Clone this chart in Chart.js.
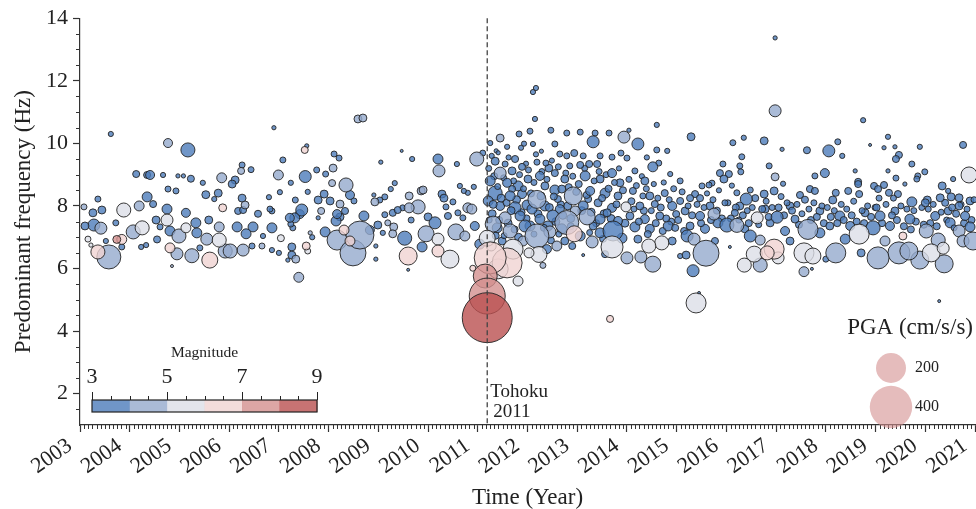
<!DOCTYPE html>
<html>
<head>
<meta charset="utf-8">
<script src="https://cdn.jsdelivr.net/npm/chart.js@4.4.1/dist/chart.umd.min.js"></script>
<style>
  html, body { margin: 0; padding: 0; background: #fff; }
  .chartContainer { width: 976px; height: 509px; }
</style>
</head>
<body>
<div class="chartContainer"><canvas id="chart" width="976" height="509"></canvas></div>
<script>
// Events: time (decimal year), predominant frequency (Hz),
// PGA (cm/s/s) and magnitude. One block per year, then the dense aftershock band.
const eventTime = [
  // 2003
  2003.62, 2003.10, 2003.16, 2003.26, 2003.28, 2003.42, 2003.36, 2003.36, 2003.58, 2003.72,
  2003.74, 2003.84, 2003.84, 2003.88, 2003.44, 2003.08, 2003.22, 2003.52,
  // 2004
  2004.13, 2004.35, 2004.41, 2004.67, 2004.77, 2004.97, 2004.35, 2004.77, 2004.93, 2004.19,
  2004.47, 2004.75, 2004.07, 2004.25, 2004.53, 2004.75, 2004.81, 2004.23, 2004.33, 2004.55,
  2004.81, 2004.95, 2004.85, 2004.61,
  // 2005
  2005.17, 2005.08, 2005.23, 2005.47, 2005.85, 2005.53, 2005.78, 2005.13, 2004.99, 2005.13,
  2005.33, 2005.35, 2005.55, 2005.80, 2005.59, 2005.80, 2005.87, 2005.25, 2005.61, 2005.92,
  2005.41, 2005.70,
  // 2006
  2006.26, 2006.44, 2006.24, 2006.06, 2006.12, 2006.26, 2006.32, 2006.80, 2006.90, 2006.99,
  2006.18, 2006.28, 2006.82, 2006.86, 2006.16, 2006.34, 2006.48, 2006.86, 2006.68, 2006.02,
  2006.28, 2006.46, 2006.66, 2006.86, 2007.00, 2006.58,
  // 2007
  2007.04, 2007.08, 2007.52, 2007.56, 2007.53, 2007.76, 2007.94, 2007.24, 2007.02, 2007.58,
  2007.33, 2007.79, 2007.91, 2007.46, 2007.22, 2007.32, 2007.42, 2007.85, 2007.79, 2007.24,
  2007.28, 2007.93, 2007.63, 2007.26, 2007.26, 2007.55, 2007.58, 2007.34, 2007.18, 2007.40,
  2007.67,
  // 2008
  2008.11, 2008.21, 2008.09, 2008.07, 2008.35, 2008.23, 2008.43, 2008.51, 2008.03, 2008.17,
  2008.23, 2008.15, 2008.71, 2008.99, 2008.17, 2008.63, 2008.49, 2008.31, 2008.59, 2008.69,
  2008.93, 2008.91, 2008.95, 2008.95, 2008.43, 2008.83, 2008.33,
  // 2009
  2009.13, 2009.25, 2009.33, 2009.03, 2009.05, 2009.47, 2009.68, 2009.62, 2009.86, 2009.90,
  2009.13, 2009.29, 2009.39, 2009.49, 2009.62, 2009.80, 2009.66, 2010.00, 2009.31, 2009.29,
  2009.53, 2009.88, 2009.60, 2009.60, 2009.09, 2009.19,
  // 2010
  2010.20, 2010.22, 2010.58, 2010.28, 2010.32, 2010.64, 2010.72, 2010.80, 2010.92, 2010.36,
  2010.50, 2010.80, 2010.88, 2010.60, 2010.70, 2010.14, 2009.96, 2010.56, 2010.74, 2010.20,
  2010.20, 2010.44, 2010.98, 2011.10, 2011.04, 2010.90, 2010.94, 2010.40,
  // Tohoku sequence
  2011.19, 2011.19, 2011.15, 2011.25, 2011.59, 2011.71, 2011.19, 2011.31, 2011.25, 2011.41,
  2011.81, 2011.45,
  // rest of 2011
  2011.83, 2012.05, 2011.59, 2011.87, 2011.93, 2011.35, 2011.55, 2011.75, 2011.45, 2011.69,
  2011.89, 2011.25, 2011.59, 2011.81, 2012.01, 2011.35, 2011.65, 2011.89, 2011.21, 2011.45,
  2011.75, 2011.99, 2011.29, 2011.55, 2011.85, 2011.39, 2011.65, 2011.95, 2011.49, 2011.91,
  2011.69, 2011.27, 2012.03, 2011.37,
  // 2012
  2012.15, 2012.11, 2012.17, 2012.47, 2012.79, 2012.55, 2012.11, 2012.65, 2012.79, 2012.94,
  2012.19, 2012.37, 2012.43, 2012.25, 2012.55, 2012.75, 2012.85, 2012.19, 2012.55, 2012.92,
  2012.35, 2012.69, 2012.09, 2012.35, 2012.65, 2012.96, 2012.25, 2012.51, 2012.79, 2012.19,
  2012.45, 2012.94, 2012.23, 2012.31, 2012.59, 2012.90, 2012.39, 2012.75, 2012.05, 2012.61,
  2012.41, 2012.69, 2012.27, 2012.81,
  // 2013
  2013.06, 2013.36, 2013.64, 2013.32, 2013.94, 2014.04, 2013.12, 2013.46, 2013.70, 2013.88,
  2014.00, 2013.06, 2013.24, 2013.40, 2013.16, 2013.46, 2013.70, 2013.86, 2013.26, 2013.56,
  2013.82, 2013.12, 2013.42, 2013.70, 2013.98, 2013.20, 2013.46, 2013.82, 2013.72, 2013.30,
  2013.70, 2014.00, 2013.06, 2013.46, 2013.90, 2013.56, 2013.12, 2013.66, 2013.32, 2013.60,
  2013.22,
  // 2014
  2014.22, 2014.60, 2014.60, 2014.81, 2014.64, 2014.52, 2014.87, 2014.16, 2014.36, 2014.12,
  2014.46, 2014.76, 2014.26, 2014.56, 2014.91, 2014.06, 2014.36, 2014.66, 2014.16, 2014.46,
  2014.83, 2014.44, 2014.70, 2014.28, 2014.52, 2014.91, 2014.22, 2014.99, 2014.32, 2014.72,
  2014.40,
  // 2015
  2015.29, 2015.21, 2015.35, 2015.59, 2015.33, 2015.39, 2015.45, 2015.07, 2015.19, 2015.51,
  2015.65, 2015.71, 2015.07, 2015.27, 2015.37, 2015.47, 2015.87, 2015.95, 2015.75, 2015.17,
  2015.47, 2015.27, 2015.57, 2015.83, 2015.07, 2015.67, 2015.93, 2015.77,
  // 2016
  2016.13, 2016.35, 2016.76, 2016.31, 2016.27, 2016.29, 2016.86, 2016.05, 2016.21, 2016.48,
  2016.40, 2016.76, 2016.96, 2016.21, 2016.01, 2016.62, 2016.48, 2016.68, 2016.56, 2016.36,
  2016.68, 2016.82, 2016.07, 2016.27, 2016.78, 2016.17, 2016.88, 2016.37,
  // 2017
  2016.98, 2016.98, 2017.12, 2017.62, 2016.98, 2017.14, 2017.78, 2017.98, 2017.48, 2017.78,
  2017.68, 2017.02, 2017.64, 2016.96, 2017.04, 2017.56, 2017.74, 2017.56, 2017.72, 2017.28,
  2017.38, 2017.18, 2017.88, 2017.88, 2018.00, 2017.28,
  // 2018
  2018.06, 2018.24, 2018.33, 2018.75, 2018.59, 2018.65, 2018.65, 2018.97, 2018.20, 2018.14,
  2018.45, 2018.67, 2018.67, 2018.95, 2018.20, 2018.71, 2018.28, 2018.49, 2018.79, 2018.39,
  2018.08, 2018.89,
  // 2019
  2019.25, 2019.17, 2019.39, 2019.89, 2019.47, 2019.41, 2019.73, 2019.25, 2019.99, 2019.85,
  2019.83, 2019.41, 2019.59, 2019.17, 2019.05, 2019.27, 2019.45, 2019.73, 2019.05, 2019.47,
  2019.67, 2019.89, 2019.55, 2019.09, 2019.29, 2019.69, 2019.39, 2019.19,
  // 2020
  2020.76, 2020.88, 2020.56, 2020.34, 2020.30, 2020.46, 2020.52, 2020.68, 2020.68, 2020.90,
  2020.04, 2020.00, 2020.02, 2020.26, 2020.36, 2020.68, 2020.76, 2020.96, 2020.12, 2020.38,
  2020.28, 2020.20, 2020.50, 2020.80, 2020.46, 2020.90,
  // dense band 2011
  2011.22, 2011.28, 2011.33, 2011.40, 2011.47, 2011.52, 2011.58, 2011.62, 2011.67, 2011.72,
  2011.78, 2011.84, 2011.88, 2011.92, 2011.97, 2011.31, 2011.43, 2011.61, 2011.74, 2011.82,
  2011.23, 2011.36, 2011.53, 2011.98, 2011.41,
  // dense band 2012
  2012.02, 2012.07, 2012.13, 2012.17, 2012.21, 2012.29, 2012.33, 2012.39, 2012.44, 2012.49,
  2012.53, 2012.57, 2012.62, 2012.67, 2012.71, 2012.77, 2012.83, 2012.87, 2012.91, 2012.98,
  2012.13, 2012.47, 2012.63, 2012.87, 2012.28,
  // dense band 2013
  2013.03, 2013.09, 2013.15, 2013.19, 2013.28, 2013.34, 2013.38, 2013.44, 2013.50, 2013.54,
  2013.58, 2013.63, 2013.68, 2013.75, 2013.79, 2013.84, 2013.92, 2013.96, 2013.25, 2013.52,
  // dense band 2014
  2014.04, 2014.09, 2014.14, 2014.19, 2014.24, 2014.30, 2014.34, 2014.39, 2014.42, 2014.49,
  2014.54, 2014.58, 2014.62, 2014.68, 2014.74, 2014.79, 2014.85, 2014.89, 2014.94, 2014.97,
  // dense band 2015
  2015.03, 2015.11, 2015.15, 2015.23, 2015.31, 2015.41, 2015.49, 2015.55, 2015.61, 2015.69,
  2015.73, 2015.81, 2015.85, 2015.91, 2015.97,
  // dense band 2016
  2016.03, 2016.09, 2016.11, 2016.19, 2016.25, 2016.33, 2016.42, 2016.45, 2016.52, 2016.58,
  2016.65, 2016.72, 2016.80, 2016.85, 2016.92,
  // dense band 2017
  2017.05, 2017.10, 2017.16, 2017.22, 2017.32, 2017.42, 2017.46, 2017.52, 2017.58, 2017.66,
  2017.70, 2017.76, 2017.82, 2017.92, 2017.96,
  // dense band 2018
  2018.03, 2018.10, 2018.17, 2018.23, 2018.31, 2018.36, 2018.42, 2018.52, 2018.56, 2018.62,
  2018.73, 2018.77, 2018.84, 2018.91, 2018.99,
  // dense band 2019
  2019.02, 2019.07, 2019.13, 2019.21, 2019.33, 2019.36, 2019.43, 2019.51, 2019.57, 2019.63,
  2019.71, 2019.77, 2019.81, 2019.93, 2019.97,
  // dense band 2020
  2020.06, 2020.10, 2020.16, 2020.23, 2020.32, 2020.40, 2020.43, 2020.54, 2020.58, 2020.62,
  2020.72, 2020.78, 2020.84, 2020.93, 2020.98
];

const eventFreq = [
  // 2003
  10.30, 7.36, 6.94, 7.78, 7.39, 7.29, 8.22, 6.53, 6.37, 7.46,
  6.93, 6.93, 6.69, 7.87, 7.87, 7.97, 6.75, 6.88,
  // 2004
  9.02, 8.99, 8.99, 8.99, 10.01, 8.96, 8.29, 8.54, 8.48, 8.00,
  8.06, 7.90, 7.17, 7.30, 7.55, 7.55, 7.20, 6.69, 6.75, 6.93,
  6.66, 6.47, 6.08, 7.33,
  // 2005
  9.79, 8.96, 8.87, 8.74, 8.90, 8.36, 8.41, 7.78, 7.04, 7.30,
  7.46, 7.14, 6.94, 6.91, 7.55, 7.33, 7.94, 6.41, 6.27, 6.56,
  6.66, 8.22,
  // 2006
  9.31, 9.16, 9.12, 8.70, 8.83, 8.25, 8.03, 8.28, 10.50, 8.99,
  7.84, 7.87, 7.90, 7.84, 7.33, 7.11, 7.33, 7.30, 7.04, 6.56,
  6.59, 6.72, 6.72, 6.59, 6.50, 7.75,
  // 2007
  6.97, 9.47, 9.79, 9.92, 8.94, 9.15, 9.02, 8.74, 8.44, 8.45,
  8.19, 8.19, 8.38, 7.87, 7.62, 7.62, 7.74, 7.84, 7.62, 7.42,
  7.30, 7.17, 7.14, 6.69, 6.43, 6.72, 6.56, 6.30, 6.27, 5.72,
  7.00,
  // 2008
  9.66, 9.53, 9.21, 8.73, 8.67, 8.06, 8.35, 8.16, 8.16, 7.74,
  7.65, 7.52, 7.68, 7.39, 6.91, 7.07, 6.50, 7.23, 10.78, 10.81,
  8.13, 8.35, 6.72, 6.30, 6.88, 7.23, 7.84,
  // 2009
  8.29, 8.54, 8.73, 8.19, 9.40, 9.76, 9.50, 8.32, 8.48, 8.51,
  7.72, 7.78, 7.87, 7.94, 7.94, 7.97, 7.55, 7.65, 7.33, 7.11,
  6.97, 6.69, 6.40, 5.96, 7.14, 7.46,
  // 2010
  9.50, 9.12, 9.34, 8.38, 8.25, 8.64, 8.48, 8.42, 8.61, 7.97,
  8.13, 7.94, 7.90, 7.78, 7.62, 7.46, 7.11, 7.17, 7.04, 6.94,
  6.56, 6.30, 9.50, 9.69, 6.78, 6.01, 7.36, 7.68,
  // Tohoku sequence
  4.43, 5.12, 5.76, 6.34, 6.18, 6.62, 6.97, 7.42, 10.01, 5.99,
  5.60, 10.17,
  // rest of 2011
  10.30, 10.39, 9.89, 9.86, 9.99, 9.43, 9.34, 9.50, 9.05, 9.12,
  9.25, 8.80, 8.74, 8.64, 8.86, 8.41, 8.32, 8.38, 8.16, 8.00,
  7.94, 8.03, 7.75, 7.62, 7.68, 7.30, 7.20, 7.36, 6.88, 6.88,
  8.54, 6.72, 6.50, 9.76,
  // 2012
  10.78, 11.64, 11.77, 10.42, 10.33, 9.98, 9.98, 9.66, 9.60, 9.69,
  9.40, 9.37, 9.21, 8.96, 9.05, 8.86, 9.28, 8.21, 8.51, 8.32,
  8.64, 8.54, 7.90, 8.00, 7.90, 7.84, 7.58, 7.68, 7.47, 7.04,
  7.17, 7.11, 6.45, 6.10, 6.72, 6.72, 6.62, 6.88, 7.36, 8.22,
  7.36, 7.27, 8.32, 8.00,
  // 2013
  10.36, 10.33, 10.33, 10.05, 10.20, 10.42, 9.60, 9.60, 9.56, 9.69,
  9.53, 9.31, 9.34, 9.34, 8.96, 8.86, 9.05, 8.74, 8.48, 8.41,
  8.32, 8.00, 8.10, 7.94, 7.97, 7.65, 7.58, 7.52, 7.20, 6.85,
  6.69, 6.34, 7.04, 7.14, 6.97, 6.46, 6.43, 4.39, 7.36, 7.78,
  8.22,
  // 2014
  9.98, 10.59, 9.79, 9.76, 9.37, 9.25, 9.02, 9.12, 8.80, 8.48,
  8.32, 8.41, 8.00, 8.06, 8.00, 7.68, 7.58, 7.68, 7.33, 7.27,
  7.36, 6.72, 6.82, 6.37, 6.14, 6.88, 6.94, 7.74, 8.32, 7.20,
  9.55,
  // 2015
  10.21, 7.04, 6.94, 6.49, 5.93, 4.90, 5.22, 6.40, 6.43, 8.64,
  8.67, 8.73, 8.80, 8.25, 8.38, 8.25, 9.05, 8.86, 7.74, 7.84,
  7.68, 7.36, 7.27, 7.46, 8.16, 8.00, 9.34, 6.88,
  // 2016
  10.02, 10.18, 10.08, 9.57, 9.28, 9.09, 9.28, 9.02, 8.42, 8.51,
  8.22, 8.38, 8.48, 7.38, 7.39, 7.62, 7.04, 6.91, 6.46, 6.11,
  6.11, 6.50, 6.69, 8.00, 7.90, 7.78, 7.46, 7.27,
  // 2017
  13.37, 11.04, 9.81, 9.78, 8.93, 8.71, 8.96, 9.05, 8.35, 8.48,
  8.54, 7.64, 7.25, 6.62, 6.34, 6.50, 6.40, 5.90, 5.99, 8.00,
  7.58, 7.20, 7.84, 7.14, 6.30, 6.88,
  // 2018
  9.76, 10.05, 9.60, 10.74, 9.12, 8.77, 8.70, 8.64, 8.42, 8.19,
  8.48, 8.38, 7.10, 7.30, 6.50, 6.50, 7.68, 7.36, 7.78, 6.94,
  7.36, 9.95,
  // 2019
  10.21, 9.86, 9.89, 9.89, 9.63, 9.50, 9.34, 9.12, 9.09, 8.96,
  8.86, 8.89, 8.70, 8.67, 8.54, 8.42, 8.38, 8.13, 6.34, 6.50,
  6.56, 6.27, 7.04, 7.68, 7.36, 7.58, 7.84, 6.88,
  // 2020
  9.95, 8.99, 8.86, 8.64, 8.26, 8.48, 8.29, 8.26, 8.00, 8.16,
  8.19, 8.10, 7.20, 6.91, 6.65, 7.20, 6.88, 6.88, 6.50, 6.15,
  4.96, 7.68, 7.46, 7.68, 7.84, 7.33,
  // dense band 2011
  9.20, 9.60, 8.95, 8.62, 8.25, 8.90, 8.10, 9.55, 7.85, 8.80,
  8.20, 9.00, 7.80, 8.55, 9.35, 8.05, 7.55, 7.45, 7.25, 7.00,
  7.55, 7.05, 7.05, 7.60, 9.70,
  // dense band 2012
  9.15, 8.40, 8.75, 9.65, 7.75, 9.10, 7.30, 8.85, 7.95, 9.45,
  8.30, 7.50, 9.25, 8.05, 7.70, 9.05, 8.60, 7.60, 8.95, 8.45,
  7.10, 6.90, 7.10, 7.35, 9.75,
  // dense band 2013
  8.70, 7.85, 9.20, 8.35, 7.80, 8.80, 7.45, 9.10, 8.25, 7.75,
  9.00, 8.55, 7.60, 8.75, 8.05, 9.20, 8.50, 7.45, 7.15, 6.95,
  // dense band 2014
  8.85, 8.15, 7.90, 8.65, 7.50, 8.95, 7.85, 8.55, 7.10, 7.85,
  8.70, 7.45, 8.25, 7.95, 8.75, 7.60, 8.20, 7.50, 8.55, 7.30,
  // dense band 2015
  7.55, 8.45, 7.20, 8.00, 7.70, 8.05, 7.45, 7.95, 8.40, 7.55,
  8.20, 7.85, 8.50, 7.60, 8.10,
  // dense band 2016
  8.10, 7.60, 8.65, 7.95, 7.55, 7.70, 7.85, 7.45, 7.95, 8.25,
  7.40, 7.90, 8.15, 7.65, 7.95,
  // dense band 2017
  7.95, 8.30, 7.70, 8.10, 7.85, 8.05, 7.40, 7.75, 8.20, 7.90,
  7.55, 8.10, 7.65, 8.00, 7.45,
  // dense band 2018
  7.95, 7.65, 7.85, 7.45, 8.05, 7.55, 7.90, 7.70, 8.15, 7.50,
  7.85, 7.45, 8.00, 7.65, 7.95,
  // dense band 2019
  7.95, 8.25, 7.45, 8.05, 7.70, 8.25, 7.55, 8.00, 7.35, 7.90,
  7.25, 7.85, 7.50, 7.95, 7.40,
  // dense band 2020
  7.90, 7.45, 8.05, 7.35, 7.80, 8.10, 7.55, 7.95, 7.30, 7.75,
  8.05, 7.45, 7.90, 7.55, 8.20
];

const eventPGA = [
  // 2003
  6, 14, 8, 14, 32, 32, 8, 44, 128, 8,
  14, 22, 8, 44, 14, 8, 4, 6,
  // 2004
  11, 11, 18, 6, 18, 4, 22, 8, 8, 22,
  11, 22, 44, 44, 14, 32, 22, 6, 6, 11,
  22, 32, 2, 8,
  // 2005
  44, 4, 11, 6, 22, 14, 14, 18, 44, 22,
  22, 22, 32, 44, 14, 22, 14, 44, 57, 44,
  8, 6,
  // 2006
  8, 8, 11, 14, 14, 14, 14, 6, 4, 22,
  11, 11, 8, 8, 22, 22, 22, 22, 6, 44,
  32, 8, 8, 6, 6, 11,
  // 2007
  11, 8, 11, 4, 32, 8, 8, 6, 6, 6,
  8, 14, 14, 32, 18, 22, 18, 11, 4, 8,
  8, 22, 4, 14, 14, 14, 8, 14, 4, 22,
  6,
  // 2008
  8, 8, 14, 11, 44, 14, 18, 8, 14, 18,
  14, 22, 22, 14, 89, 174, 150, 22, 14, 14,
  14, 4, 4, 4, 22, 18, 11,
  // 2009
  8, 6, 6, 8, 4, 2, 6, 14, 14, 14,
  8, 11, 11, 8, 22, 44, 8, 14, 14, 14,
  44, 22, 72, 2, 6, 8,
  // 2010
  22, 32, 6, 14, 14, 6, 6, 6, 6, 8,
  8, 22, 22, 8, 8, 32, 57, 57, 22, 32,
  32, 72, 44, 8, 22, 8, 18, 11,
  // Tohoku sequence
  555, 288, 128, 228, 200, 89, 57, 57, 6, 89,
  22, 14,
  // rest of 2011
  8, 8, 6, 6, 6, 14, 8, 11, 32, 14,
  11, 22, 18, 22, 14, 44, 22, 18, 22, 18,
  32, 22, 14, 32, 22, 22, 44, 32, 14, 22,
  11, 22, 22, 4,
  // 2012
  6, 6, 6, 8, 8, 8, 6, 8, 8, 11,
  8, 8, 14, 18, 11, 14, 8, 72, 22, 72,
  14, 14, 22, 22, 18, 22, 22, 32, 128, 128,
  32, 57, 57, 8, 22, 11, 18, 14, 22, 11,
  22, 22, 14, 14,
  // 2013
  8, 8, 8, 32, 32, 4, 8, 8, 8, 8,
  8, 11, 11, 11, 22, 14, 18, 14, 18, 22,
  14, 22, 14, 18, 22, 57, 22, 18, 89, 32,
  108, 32, 22, 22, 22, 11, 2, 11, 14, 14,
  11,
  // 2014
  32, 6, 8, 6, 8, 22, 6, 8, 14, 11,
  14, 11, 14, 11, 18, 14, 18, 14, 22, 18,
  22, 44, 44, 32, 57, 14, 14, 11, 8, 11,
  6,
  // 2015
  14, 32, 32, 150, 32, 89, 2, 6, 14, 8,
  8, 8, 8, 11, 11, 11, 11, 14, 32, 14,
  18, 14, 18, 22, 11, 14, 8, 11,
  // 2016
  8, 6, 14, 8, 8, 8, 8, 11, 8, 8,
  32, 14, 14, 44, 44, 32, 32, 22, 57, 44,
  44, 44, 2, 14, 14, 11, 14, 14,
  // 2017
  4, 32, 4, 11, 14, 6, 8, 18, 11, 11,
  11, 32, 89, 89, 32, 89, 57, 22, 2, 14,
  14, 18, 14, 22, 8, 14,
  // 2018
  32, 8, 6, 6, 4, 11, 11, 11, 11, 14,
  11, 11, 89, 44, 89, 14, 22, 18, 14, 22,
  14, 2,
  // 2019
  6, 4, 4, 6, 11, 11, 8, 4, 8, 8,
  8, 8, 4, 11, 11, 11, 11, 22, 108, 108,
  72, 72, 14, 22, 18, 22, 14, 22,
  // 2020
  11, 57, 6, 14, 14, 6, 14, 14, 14, 14,
  14, 14, 44, 44, 32, 32, 32, 72, 72, 72,
  2, 18, 22, 18, 14, 22,
  // dense band 2011
  8, 6, 11, 8, 14, 8, 11, 6, 14, 8,
  14, 8, 11, 8, 6, 14, 11, 14, 11, 14,
  8, 11, 8, 11, 4,
  // dense band 2012
  8, 11, 8, 6, 14, 8, 11, 8, 14, 6,
  11, 14, 8, 11, 14, 8, 11, 14, 8, 11,
  8, 11, 8, 11, 4,
  // dense band 2013
  11, 14, 8, 11, 14, 8, 11, 8, 11, 14,
  8, 11, 14, 8, 11, 6, 11, 14, 8, 11,
  // dense band 2014
  8, 11, 8, 8, 11, 6, 11, 8, 11, 8,
  6, 11, 8, 11, 6, 11, 8, 11, 8, 11,
  // dense band 2015
  11, 8, 11, 8, 11, 8, 11, 8, 6, 11,
  8, 11, 6, 11, 8,
  // dense band 2016
  8, 11, 6, 11, 8, 11, 8, 11, 8, 11,
  8, 11, 8, 11, 8,
  // dense band 2017
  11, 8, 11, 8, 11, 8, 11, 8, 11, 8,
  11, 8, 11, 8, 11,
  // dense band 2018
  8, 11, 8, 11, 8, 11, 8, 11, 8, 11,
  8, 11, 8, 11, 8,
  // dense band 2019
  11, 8, 11, 8, 11, 8, 11, 8, 11, 8,
  11, 8, 11, 8, 11,
  // dense band 2020
  8, 11, 8, 11, 8, 11, 8, 11, 8, 11,
  8, 11, 8, 11, 8
];

const eventMag = [
  // 2003
  3.6, 3.7, 5.2, 3.8, 3.6, 4.3, 3.5, 6.4, 4.6, 3.5,
  7.4, 6.3, 3.5, 5.3, 3.6, 4.1, 5.3, 3.8,
  // 2004
  3.6, 3.5, 3.8, 3.5, 4.2, 3.5, 3.7, 3.5, 3.6, 4.3,
  3.5, 3.8, 4.5, 5.4, 3.6, 5.2, 3.7, 3.5, 3.6, 3.5,
  6.2, 4.0, 4.5, 3.6,
  // 2005
  3.8, 3.5, 3.7, 3.5, 4.3, 3.6, 3.7, 3.6, 4.6, 5.3,
  3.8, 3.6, 4.6, 5.8, 3.5, 4.4, 6.3, 4.6, 6.8, 4.3,
  3.6, 3.5,
  // 2006
  3.6, 3.5, 4.3, 3.7, 3.6, 3.8, 4.2, 3.5, 3.5, 4.2,
  3.6, 3.7, 3.6, 3.5, 3.7, 3.6, 3.8, 3.6, 3.5, 4.6,
  4.1, 3.7, 4.5, 3.6, 3.5, 3.5,
  // 2007
  5.3, 3.6, 6.2, 3.5, 3.8, 3.6, 3.5, 3.5, 3.5, 3.4,
  3.6, 3.7, 3.6, 3.8, 3.7, 3.6, 3.5, 4.4, 3.5, 3.6,
  3.5, 3.7, 4.8, 3.7, 3.8, 6.4, 5.3, 4.4, 3.5, 4.3,
  3.6,
  // 2008
  3.6, 3.5, 4.3, 4.2, 4.2, 4.5, 3.8, 3.6, 3.7, 3.8,
  3.6, 3.7, 3.8, 3.6, 4.8, 4.9, 4.8, 6.3, 4.0, 4.4,
  4.4, 3.5, 3.6, 3.5, 6.0, 3.7, 3.6,
  // 2009
  3.5, 3.6, 3.5, 3.6, 3.5, 3.5, 3.6, 4.4, 4.3, 4.5,
  3.6, 3.5, 3.7, 3.6, 4.4, 4.3, 3.6, 3.7, 4.4, 4.5,
  3.7, 3.8, 6.3, 3.6, 3.5, 4.3,
  // 2010
  3.7, 4.4, 3.6, 3.7, 3.8, 3.5, 3.6, 3.5, 3.6, 3.5,
  3.6, 4.4, 4.6, 3.6, 3.5, 3.8, 4.5, 4.6, 4.8, 5.3,
  6.2, 5.9, 4.4, 3.6, 3.8, 6.4, 3.7, 3.6,
  // Tohoku sequence
  9.0, 7.9, 7.2, 6.3, 6.1, 5.6, 5.4, 4.4, 3.6, 5.8,
  5.3, 4.3,
  // rest of 2011
  3.6, 3.5, 3.6, 3.5, 3.6, 3.7, 3.5, 3.6, 4.0, 3.6,
  3.7, 3.7, 3.8, 3.5, 3.6, 3.6, 3.8, 3.5, 3.7, 3.6,
  3.7, 3.6, 3.5, 4.3, 3.7, 3.6, 4.7, 3.8, 3.5, 4.3,
  3.6, 5.2, 5.5, 3.5,
  // 2012
  3.6, 3.5, 3.6, 3.6, 3.5, 3.6, 3.5, 3.6, 3.5, 3.6,
  3.6, 3.7, 3.5, 3.6, 3.7, 3.8, 3.5, 4.6, 3.6, 4.1,
  3.5, 3.7, 3.7, 3.6, 3.8, 4.3, 3.7, 3.8, 4.6, 4.8,
  4.4, 6.8, 5.3, 4.4, 4.5, 3.7, 3.6, 3.5, 3.6, 3.6,
  3.7, 3.6, 3.5, 3.6,
  // 2013
  3.6, 3.5, 3.6, 3.8, 4.5, 3.5, 3.6, 3.5, 3.6, 3.7,
  3.6, 3.6, 3.5, 3.6, 3.7, 3.6, 3.8, 3.5, 3.7, 3.6,
  3.7, 3.8, 3.6, 3.5, 5.2, 4.5, 3.6, 3.7, 3.9, 4.4,
  5.3, 4.4, 3.6, 3.7, 3.6, 3.5, 3.5, 6.5, 3.6, 3.7,
  3.5,
  // 2014
  3.7, 3.6, 3.6, 3.5, 3.6, 3.7, 3.5, 3.6, 3.7, 3.6,
  3.5, 3.6, 3.7, 3.6, 3.5, 3.7, 3.6, 3.8, 3.6, 3.7,
  3.6, 5.4, 5.3, 4.5, 4.4, 3.6, 3.5, 3.6, 3.5, 3.5,
  3.6,
  // 2015
  3.7, 3.7, 4.3, 4.7, 3.9, 5.2, 3.6, 3.5, 3.6, 3.5,
  3.6, 3.5, 3.6, 3.6, 3.5, 3.7, 3.6, 3.7, 4.4, 3.6,
  3.7, 3.6, 3.5, 3.7, 3.5, 3.6, 3.6, 3.6,
  // 2016
  3.6, 3.6, 3.7, 3.6, 3.5, 3.6, 3.6, 3.6, 3.5, 3.6,
  3.8, 3.6, 3.7, 4.4, 3.8, 5.2, 3.8, 4.4, 5.3, 5.4,
  4.5, 6.3, 3.6, 3.6, 3.5, 3.7, 3.6, 3.5,
  // 2017
  3.5, 4.5, 3.5, 3.6, 4.3, 3.5, 3.6, 3.6, 3.6, 3.7,
  3.5, 3.8, 4.6, 6.2, 5.4, 5.4, 5.5, 4.4, 3.6, 3.6,
  3.7, 3.6, 3.5, 3.7, 3.6, 3.5,
  // 2018
  3.8, 3.6, 3.5, 3.6, 3.5, 3.6, 3.7, 3.6, 3.6, 3.7,
  3.5, 3.6, 5.3, 3.8, 4.6, 3.7, 3.6, 3.7, 3.6, 3.6,
  3.8, 3.5,
  // 2019
  3.6, 3.5, 3.6, 3.5, 3.6, 3.7, 3.8, 3.5, 3.6, 3.6,
  3.7, 3.6, 3.5, 3.6, 3.7, 3.6, 3.5, 3.7, 4.7, 4.6,
  4.6, 4.5, 6.3, 3.7, 3.6, 3.7, 3.5, 4.4,
  // 2020
  3.6, 5.4, 3.5, 3.6, 3.7, 3.6, 3.5, 3.6, 3.7, 3.6,
  3.6, 3.7, 4.2, 4.6, 5.3, 4.5, 4.6, 4.6, 5.2, 4.6,
  3.6, 3.7, 3.6, 3.7, 3.5, 3.8,
  // dense band 2011
  3.6, 3.5, 3.6, 3.7, 3.6, 3.5, 3.6, 3.6, 3.7, 3.5,
  3.6, 3.6, 3.5, 3.7, 3.6, 3.8, 3.6, 3.5, 3.6, 3.7,
  3.6, 3.6, 3.5, 3.6, 3.5,
  // dense band 2012
  3.6, 3.7, 3.5, 3.6, 3.6, 3.5, 3.7, 3.6, 3.6, 3.5,
  3.6, 3.7, 3.6, 3.5, 3.6, 3.7, 3.6, 3.5, 3.6, 3.6,
  3.5, 3.6, 3.7, 3.6, 3.5,
  // dense band 2013
  3.6, 3.7, 3.5, 3.6, 3.6, 3.7, 3.5, 3.6, 3.6, 3.5,
  3.7, 3.6, 3.6, 3.5, 3.6, 3.7, 3.6, 3.5, 3.6, 3.6,
  // dense band 2014
  3.6, 3.5, 3.6, 3.7, 3.6, 3.5, 3.6, 3.6, 3.7, 3.6,
  3.5, 3.6, 3.6, 3.7, 3.5, 3.6, 3.6, 3.5, 3.6, 3.6,
  // dense band 2015
  3.6, 3.5, 3.6, 3.7, 3.6, 3.6, 3.5, 3.6, 3.6, 3.7,
  3.6, 3.5, 3.6, 3.6, 3.7,
  // dense band 2016
  3.6, 3.5, 3.6, 3.6, 3.7, 3.6, 3.5, 3.6, 3.6, 3.7,
  3.6, 3.5, 3.6, 3.6, 3.6,
  // dense band 2017
  3.6, 3.5, 3.6, 3.6, 3.7, 3.6, 3.5, 3.6, 3.6, 3.7,
  3.6, 3.5, 3.6, 3.6, 3.6,
  // dense band 2018
  3.6, 3.5, 3.6, 3.7, 3.6, 3.6, 3.5, 3.6, 3.6, 3.7,
  3.6, 3.5, 3.6, 3.6, 3.6,
  // dense band 2019
  3.6, 3.5, 3.6, 3.6, 3.7, 3.6, 3.5, 3.6, 3.6, 3.7,
  3.6, 3.5, 3.6, 3.6, 3.6,
  // dense band 2020
  3.6, 3.5, 3.6, 3.6, 3.7, 3.6, 3.5, 3.6, 3.6, 3.7,
  3.6, 3.5, 3.6, 3.6, 3.6
];

const yearTicks = [2003, 2004, 2005, 2006, 2007, 2008, 2009, 2010, 2011, 2012,
                   2013, 2014, 2015, 2016, 2017, 2018, 2019, 2020, 2021];
const freqTicks = [2, 4, 6, 8, 10, 12, 14];
const magTicks = [3, 5, 7, 9];
const magBinEdges = [3, 4, 5, 6, 7, 8, 9];
const pgaLegend = [200, 400];
const tohokuYear = 2011.19;

// colours for the six magnitude bins (alpha 0.8, like the figure)
const binColors = [
  'rgba(76,124,186,0.8)',
  'rgba(149,170,205,0.8)',
  'rgba(220,223,231,0.8)',
  'rgba(240,211,210,0.8)',
  'rgba(211,144,143,0.8)',
  'rgba(186,80,80,0.8)'
];
const pgaLegendColor = 'rgba(211,144,143,0.6)';

const serif = "'Liberation Serif', 'Times New Roman', Times, serif";
Chart.defaults.font.family = serif;
Chart.defaults.color = '#222';

function binIndex(m) {
  const i = Math.floor(m - magBinEdges[0]);
  return Math.max(0, Math.min(binColors.length - 1, i));
}
// marker area proportional to PGA: 200 cm/s/s -> 15 px radius
function radiusFor(pga) {
  return 15 * Math.sqrt(pga / 200);
}

const n = Math.min(eventTime.length, eventFreq.length, eventPGA.length, eventMag.length);
// small magnitudes first, so the big events sit on top
const order = [];
for (let i = 0; i < n; i++) order.push(i);
order.sort((a, b) => eventMag[a] - eventMag[b]);

const points = order.map(i => ({ x: eventTime[i], y: eventFreq[i], r: radiusFor(eventPGA[i]) }));
const fills = order.map(i => binColors[binIndex(eventMag[i])]);

const decorations = {
  id: 'decorations',
  afterDatasetsDraw(chart) {
    const { ctx, chartArea, scales: { x, y } } = chart;
    ctx.save();

    // minor ticks: months on x, half-Hz on y
    ctx.strokeStyle = '#333';
    ctx.lineWidth = 1;
    ctx.beginPath();
    for (let yr = yearTicks[0]; yr < yearTicks[yearTicks.length - 1]; yr++) {
      for (let m = 1; m < 12; m++) {
        const px = Math.round(x.getPixelForValue(yr + m / 12)) + 0.5;
        ctx.moveTo(px, chartArea.bottom);
        ctx.lineTo(px, chartArea.bottom + 4);
      }
    }
    for (let v = 1.5; v < 14; v += 0.5) {
      if (freqTicks.includes(v)) continue;
      const py = Math.round(y.getPixelForValue(v)) + 0.5;
      ctx.moveTo(chartArea.left - 4, py);
      ctx.lineTo(chartArea.left, py);
    }
    ctx.stroke();

    // Tohoku marker
    const tx = x.getPixelForValue(tohokuYear);
    ctx.setLineDash([5, 3]);
    ctx.strokeStyle = '#444';
    ctx.lineWidth = 1.3;
    ctx.beginPath();
    ctx.moveTo(tx, chartArea.top);
    ctx.lineTo(tx, chartArea.bottom);
    ctx.stroke();
    ctx.setLineDash([]);
    ctx.fillStyle = '#222';
    ctx.font = '19px ' + serif;
    ctx.textAlign = 'left';
    ctx.textBaseline = 'alphabetic';
    ctx.fillText('Tohoku', tx + 3, chartArea.bottom - 28);
    ctx.fillText('2011', tx + 6, chartArea.bottom - 8);

    // magnitude colour bar
    const cb = { left: 92, top: 400, width: 225, height: 12 };
    const lo = magBinEdges[0], hi = magBinEdges[magBinEdges.length - 1];
    const seg = cb.width / binColors.length;
    ctx.fillStyle = '#fff';
    ctx.fillRect(cb.left, cb.top, cb.width, cb.height);
    binColors.forEach((c, i) => {
      ctx.fillStyle = c;
      ctx.fillRect(cb.left + i * seg, cb.top, seg + 0.5, cb.height);
    });
    ctx.strokeStyle = '#222';
    ctx.lineWidth = 1.2;
    ctx.strokeRect(cb.left, cb.top, cb.width, cb.height);
    ctx.lineWidth = 1;
    ctx.beginPath();
    for (let v = lo; v <= hi + 1e-9; v += 0.5) {
      const px = Math.round(cb.left + (v - lo) / (hi - lo) * cb.width) + 0.5;
      const len = magTicks.includes(v) ? 8 : 4;
      ctx.moveTo(px, cb.top);
      ctx.lineTo(px, cb.top - len);
    }
    ctx.stroke();
    ctx.fillStyle = '#222';
    ctx.textAlign = 'center';
    ctx.font = '22px ' + serif;
    magTicks.forEach(v => {
      const px = cb.left + (v - lo) / (hi - lo) * cb.width;
      ctx.fillText(String(v), px, cb.top - 17);
    });
    ctx.font = '15.5px ' + serif;
    ctx.textBaseline = 'middle';
    ctx.fillText('Magnitude', cb.left + cb.width / 2, 353);

    // PGA size legend
    ctx.textAlign = 'right';
    ctx.textBaseline = 'alphabetic';
    ctx.font = '23px ' + serif;
    ctx.fillText('PGA (cm/s/s)', 973, 334);
    const legendY = [368, 407];
    ctx.font = '16px ' + serif;
    ctx.textAlign = 'left';
    ctx.textBaseline = 'middle';
    pgaLegend.forEach((p, i) => {
      ctx.fillStyle = pgaLegendColor;
      ctx.beginPath();
      ctx.arc(891, legendY[i], radiusFor(p), 0, Math.PI * 2);
      ctx.fill();
      ctx.fillStyle = '#222';
      ctx.fillText(String(p), 915, legendY[i]);
    });

    ctx.restore();
  }
};

const axisGrid = { display: true, drawOnChartArea: false, drawTicks: true, tickLength: 7, tickColor: '#333', tickWidth: 1.2 };
const axisBorder = { display: true, color: '#333', width: 1.2 };

new Chart(document.getElementById('chart'), {
  type: 'bubble',
  data: {
    datasets: [{
      data: points,
      backgroundColor: fills,
      borderColor: 'rgba(35,35,35,0.9)',
      borderWidth: 1,
      clip: false
    }]
  },
  options: {
    responsive: false,
    animation: false,
    devicePixelRatio: 1,
    events: [],
    layout: { autoPadding: false, padding: { top: 17, right: 1, left: 0, bottom: 0 } },
    plugins: { legend: { display: false }, tooltip: { enabled: false } },
    scales: {
      x: {
        type: 'linear',
        position: 'bottom',
        min: yearTicks[0],
        max: yearTicks[yearTicks.length - 1],
        afterBuildTicks: s => { s.ticks = yearTicks.map(v => ({ value: v })); },
        afterFit: s => { s.height = 84; s.paddingLeft = 0; s.paddingRight = 0; },
        ticks: {
          autoSkip: false, minRotation: 35, maxRotation: 35,
          padding: 1, labelOffset: -10, color: '#222',
          font: { size: 22 },
          callback: v => String(v)
        },
        grid: axisGrid,
        border: axisBorder,
        title: { display: true, text: 'Time (Year)', color: '#222', font: { size: 23, lineHeight: 1 }, padding: { top: 0, bottom: 0 } }
      },
      y: {
        type: 'linear',
        min: 1,
        max: 14,
        afterBuildTicks: s => { s.ticks = freqTicks.map(v => ({ value: v })); },
        afterFit: s => { s.width = 80; },
        ticks: { padding: 5, color: '#222', font: { size: 22 } },
        grid: axisGrid,
        border: axisBorder,
        title: { display: true, text: 'Predominant frequency (Hz)', color: '#222', font: { size: 23, lineHeight: 1 }, padding: { top: 12, bottom: 0 } }
      }
    }
  },
  plugins: [decorations]
});
</script>
</body>
</html>
